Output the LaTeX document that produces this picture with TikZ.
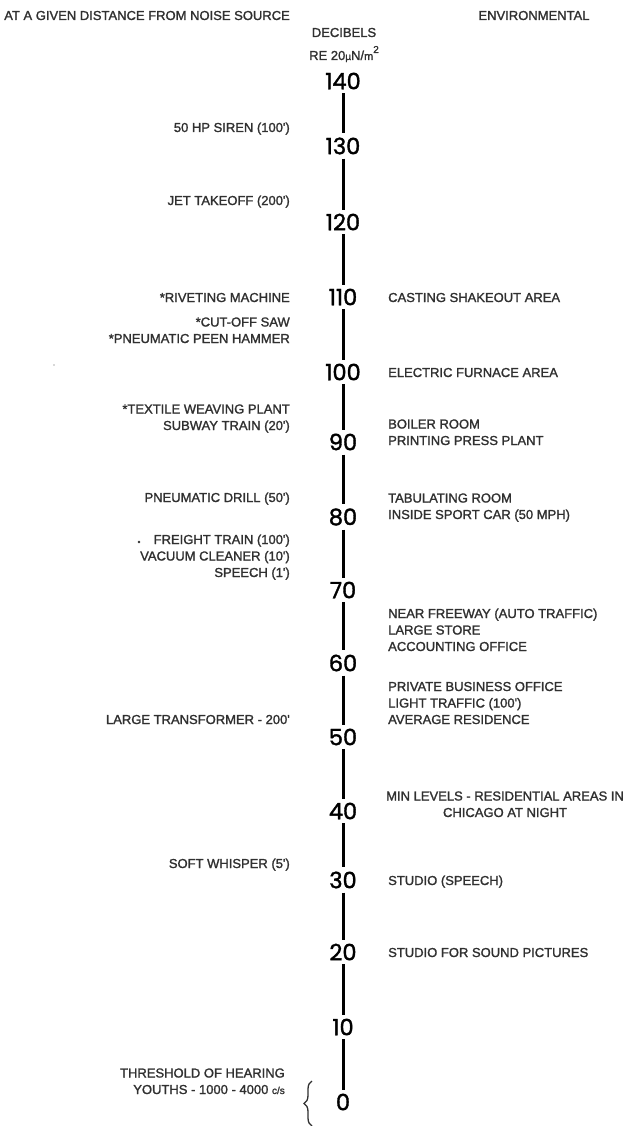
\documentclass[tikz,border=0pt]{standalone}
\usepackage{fontspec}
\setmainfont{Liberation Sans}
\newfontfamily\labfont{Liberation Sans}[FakeBold=1.5]
\newfontfamily\numfont{Poppins}[FakeBold=1.6]
\usetikzlibrary{decorations.pathreplacing}
\definecolor{ink}{HTML}{303030}
\begin{document}
\begin{tikzpicture}[x=1pt,y=-1pt,
  lab/.style={font=\labfont\fontsize{13}{16.5}\selectfont, text=ink, inner sep=0pt},
  ll/.style={lab, anchor=base east, align=right},
  rl/.style={lab, anchor=base west, align=left},
  num/.style={font=\numfont\fontsize{22.5}{22.5}\selectfont, text=black, inner sep=4pt},
  axisline/.style={line width=3pt, black},
  bracestyle/.style={decorate, decoration={brace, amplitude=8pt}, line width=1.3pt, ink}]
\useasboundingbox (0,0) rectangle (632,1126);
\fill[white] (0,0) rectangle (632,1126);

% headers
\node[ll] (hleft) at (290,20) {AT A GIVEN DISTANCE FROM NOISE SOURCE};
\node[lab, anchor=base] (hright) at (534,20) {ENVIRONMENTAL};
\node[lab, anchor=base] (hdb) at (344,37) {DECIBELS};
\node[lab, anchor=base] (hre) at (344,60) {RE 20{\fontsize{10}{10}\selectfont µ}N/{\fontsize{11}{11}\selectfont m}\raisebox{7pt}{\fontsize{10}{10}\selectfont 2}};

% scale numbers
\node[num] (n140) at (343,81) {140};
\node[num] (n130) at (343,146) {130};
\node[num] (n120) at (343,222) {120};
\node[num] (n110) at (343,297) {110};
\node[num] (n100) at (343,372) {100};
\node[num] (n90) at (343,442) {90};
\node[num] (n80) at (343,517) {80};
\node[num] (n70) at (343,590) {70};
\node[num] (n60) at (343,663) {60};
\node[num] (n50) at (343,737) {50};
\node[num] (n40) at (343,811) {40};
\node[num] (n30) at (343,880) {30};
\node[num] (n20) at (343,952) {20};
\node[num] (n10) at (343,1027) {10};
\node[num] (n0) at (343,1102) {0};

\foreach \a/\b in {140/130,130/120,120/110,110/100,100/90,90/80,80/70,70/60,60/50,50/40,40/30,30/20,20/10,10/0}
  \draw[axisline] (n\a) -- (n\b);

% left labels
\node[ll] (lsiren) at (290,132) {50 HP SIREN (100')};
\node[ll] (ljet) at (290,205) {JET TAKEOFF (200')};
\node[ll] (lriv) at (290,302) {*RIVETING MACHINE};
\node[ll] (lsaw) at (290,343) {*CUT-OFF SAW\\*PNEUMATIC PEEN HAMMER};
\node[ll] (ltex) at (290,430) {*TEXTILE WEAVING PLANT\\SUBWAY TRAIN (20')};
\node[ll] (ldrill) at (290,502) {PNEUMATIC DRILL (50')};
\node[ll] (lfreight) at (290,577) {FREIGHT TRAIN (100')\\VACUUM CLEANER (10')\\SPEECH (1')};
\node[ll] (ltrans) at (290,724) {LARGE TRANSFORMER - 200'};
\node[ll] (lwhisper) at (290,868) {SOFT WHISPER (5')};
\node[ll] (lthresh) at (285,1094) {THRESHOLD OF HEARING\\YOUTHS - 1000 - 4000 {\fontsize{10}{10}\selectfont c/s}};

% right labels
\node[rl] (rcast) at (388,302) {CASTING SHAKEOUT AREA};
\node[rl] (relec) at (388,377) {ELECTRIC FURNACE AREA};
\node[rl] (rboil) at (388,445) {BOILER ROOM\\PRINTING PRESS PLANT};
\node[rl] (rtab) at (388,519) {TABULATING ROOM\\INSIDE SPORT CAR (50 MPH)};
\node[rl] (rfree) at (388,651) {NEAR FREEWAY (AUTO TRAFFIC)\\LARGE STORE\\ACCOUNTING OFFICE};
\node[rl] (rpriv) at (388,724) {PRIVATE BUSINESS OFFICE\\LIGHT TRAFFIC (100')\\AVERAGE RESIDENCE};
\node[lab, anchor=base west, align=center] (rmin) at (386,817) {MIN LEVELS - RESIDENTIAL AREAS IN\\CHICAGO AT NIGHT};
\node[rl] (rstud) at (388,885) {STUDIO (SPEECH)};
\node[rl] (rsound) at (388,957) {STUDIO FOR SOUND PICTURES};

% brace at threshold
\coordinate (bbot) at (312,1126);
\coordinate (btop) at (312,1081);
\draw[bracestyle] (bbot) -- (btop);

% stray specks
\fill[ink] (139,542) circle (1.3);
\fill[gray!60] (54,365) circle (0.8);
\end{tikzpicture}
\end{document}
